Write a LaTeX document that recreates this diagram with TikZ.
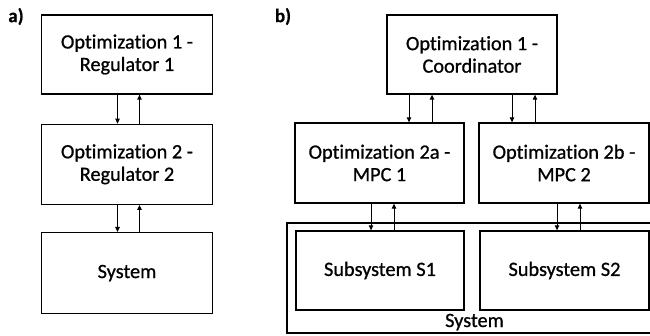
\documentclass[tikz,border=0pt]{standalone}
\usepackage{fontspec}
\setmainfont{Carlito}[Ligatures=NoCommon, FakeBold=0.8]
\usetikzlibrary{arrows.meta, positioning}
\tikzset{
  blockbox/.style = {draw, line width=1.3pt, align=center, inner sep=0pt,
                     font=\fontsize{20.3}{22.5}\selectfont},
  sysbox/.style   = {draw, line width=1.3pt, inner sep=0pt},
  panel/.style    = {font=\fontsize{19}{20}\selectfont\bfseries, inner sep=0pt},
  signal/.style   = {-{Triangle[length=5pt,width=4.5pt]}, line width=1pt},
}

\begin{document}
\begin{tikzpicture}[x=1pt, y=-1pt]
    \useasboundingbox (0,0) rectangle (650,335);

    % --- a) cascade ---------------------------------------------------------
    \node[panel] (labA) at (16,16.5) {a)};
    \node[blockbox, minimum width=171pt, minimum height=79pt] (regA) at (127,54.5)
      {Optimization 1 -\\Regulator 1};
    \node[blockbox, minimum width=171pt, minimum height=80pt, below=29pt of regA] (regB)
      {Optimization 2 -\\Regulator 2};
    \node[blockbox, minimum width=171pt, minimum height=81pt, below=27pt of regB] (plant)
      {System};

    \draw[signal] ([xshift=-9.5pt]regA.south) -- ([xshift=-9.5pt]regB.north);
    \draw[signal] ([xshift=12.5pt]regB.north) -- ([xshift=12.5pt]regA.south);
    \draw[signal] ([xshift=-9.5pt]regB.south) -- ([xshift=-9.5pt]plant.north);
    \draw[signal] ([xshift=12.5pt]plant.north) -- ([xshift=12.5pt]regB.south);

    % --- b) distributed -----------------------------------------------------
    \node[panel] (labB) at (283,16.5) {b)};
    \node[blockbox, minimum width=170pt, minimum height=79pt] (coord) at (472,54.5)
      {Optimization 1 -\\Coordinator};
    \node[blockbox, minimum width=169pt, minimum height=80pt] (mpcA) at (379.5,163)
      {Optimization 2a -\\MPC 1};
    \node[blockbox, minimum width=170pt, minimum height=80pt] (mpcB) at (564,163)
      {Optimization 2b -\\MPC 2};

    \node[sysbox, minimum width=375pt, minimum height=110pt] (plantAll) at (474.5,278) {};
    \node[font=\fontsize{20.3}{22.5}\selectfont, anchor=base] (plantLab)
      at (474.5,327) {System};
    \node[blockbox, minimum width=168pt, minimum height=79pt] (subA) at (380,270.5)
      {Subsystem S1};
    \node[blockbox, minimum width=169pt, minimum height=79pt] (subB) at (564.5,270.5)
      {Subsystem S2};

    \draw[signal] ([xshift=-63pt]coord.south) -- ([xshift=-63pt]coord.south |- mpcA.north);
    \draw[signal] ([xshift=-40pt]coord.south |- mpcA.north) -- ([xshift=-40pt]coord.south);
    \draw[signal] ([xshift=40pt]coord.south) -- ([xshift=40pt]coord.south |- mpcB.north);
    \draw[signal] ([xshift=63pt]coord.south |- mpcB.north) -- ([xshift=63pt]coord.south);

    \draw[signal] ([xshift=-8.5pt]mpcA.south) -- ([xshift=-8.5pt]mpcA.south |- subA.north);
    \draw[signal] ([xshift=14.5pt]mpcA.south |- subA.north) -- ([xshift=14.5pt]mpcA.south);
    \draw[signal] ([xshift=-7pt]mpcB.south) -- ([xshift=-7pt]mpcB.south |- subB.north);
    \draw[signal] ([xshift=16pt]mpcB.south |- subB.north) -- ([xshift=16pt]mpcB.south);
\end{tikzpicture}
\end{document}
